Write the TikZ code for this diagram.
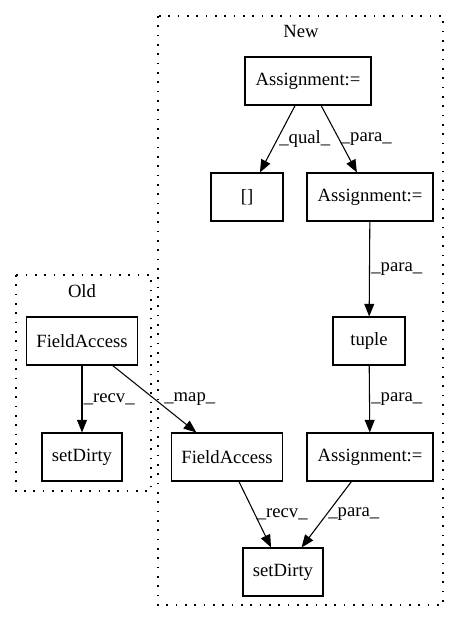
\documentclass[tikz,border=0pt]{standalone}
\usepackage{fontspec}
\setmainfont{Liberation Serif}
\usepackage{tikz}
\usetikzlibrary{arrows.meta}

\begin{document}
\begin{tikzpicture}[x=0.75pt, y=-0.75pt,
	every node/.style={font=\fontsize{14}{16}\selectfont},
	box/.style={draw, rectangle, line width=0.8pt, minimum height=36pt, inner sep=0pt},
	cluster/.style={line width=0.9pt, dash pattern=on 1.2pt off 5.8pt},
	edge/.style={line width=0.8pt, -{Triangle[length=9.5pt, width=7.5pt]}},
	lbl/.style={anchor=west, inner sep=1pt}]
		\useasboundingbox (0,0) rectangle (459,624);
		\draw[cluster] (158,16) rectangle (443,605);
		\draw[cluster] (16,275) rectangle (151,491);
		\node (newlabel) at (301,31) {New};
		\node (oldlabel) at (82,291) {Old};
		\node[box, minimum width=94.5pt] (assign1) at (308,81) {Assignment:=};
		\node[box, minimum width=54pt] (brackets) at (247,197) {[]};
		\node[box, minimum width=94.5pt] (assign2) at (370,197) {Assignment:=};
		\node[box, minimum width=54pt] (tuple) at (369,341) {tuple};
		\node[box, minimum width=94.5pt] (assign3) at (370,457) {Assignment:=};
		\node[box, minimum width=83pt] (fieldnew) at (227,457) {FieldAccess};
		\node[box, minimum width=60pt] (dirtynew) at (283,572) {setDirty};
		\node[box, minimum width=83pt] (fieldold) at (82,341) {FieldAccess};
		\node[box, minimum width=60pt] (dirtyold) at (82,457) {setDirty};
		\draw[edge] (assign1) -- (brackets) node[lbl, pos=0.5] {\_qual\_};
		\draw[edge] (assign1) -- (assign2) node[lbl, pos=0.5] {\_para\_};
		\draw[edge] (assign2) -- (tuple) node[lbl, pos=0.5] {\_para\_};
		\draw[edge] (tuple) -- (assign3) node[lbl, pos=0.5] {\_para\_};
		\draw[edge] (fieldnew) -- (dirtynew) node[lbl, pos=0.5] {\_recv\_};
		\draw[edge] (assign3) -- (dirtynew) node[lbl, pos=0.5] {\_para\_};
		\draw[edge] (fieldold) -- (dirtyold) node[lbl, pos=0.5] {\_recv\_};
		\draw[edge] (fieldold) -- (fieldnew) node[lbl, pos=0.5, xshift=6] {\_map\_};
\end{tikzpicture}
\end{document}
